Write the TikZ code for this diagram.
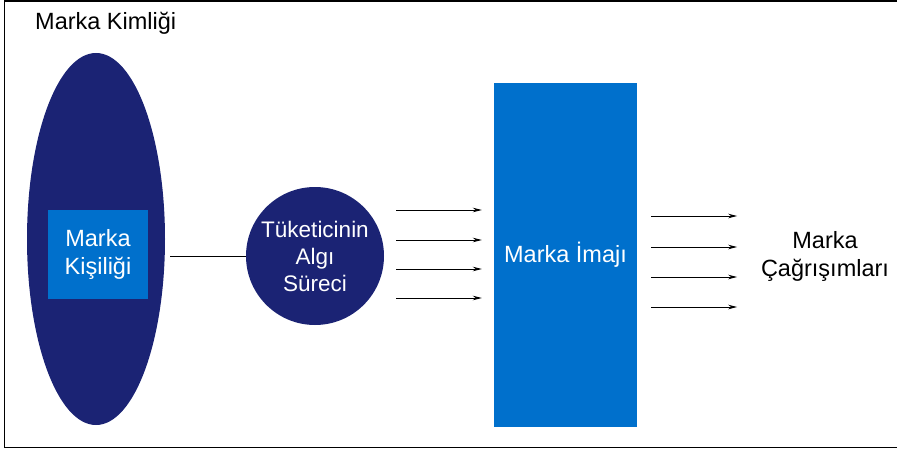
\documentclass[tikz,border=0pt]{standalone}
\usepackage{fontspec}
\setmainfont{Liberation Sans}
\usetikzlibrary{arrows.meta,positioning,shapes.geometric}
\definecolor{navy}{RGB}{27,35,116}
\definecolor{imgblue}{RGB}{0,112,204}
\begin{document}
\begin{tikzpicture}[x=1pt, y=-1pt,
  txt/.style={align=center, font=\fontsize{23.5}{28}\selectfont, inner sep=0pt},
  blob/.style={fill=navy, draw=none, inner sep=0pt},
  bluebox/.style={fill=imgblue, draw=none, inner sep=0pt, text=white},
  arr/.style={-{Stealth[length=9pt, width=4.5pt]}, line width=0.9pt}
]
\useasboundingbox (0,0) rectangle (897,452);
% frame
\draw[line width=1.2pt] (897,1) -- (4.5,1) -- (4.5,447.5) -- (897,447.5);

\node[txt, anchor=west] (kimlik) at (35,23) {Marka Kimliği};
\node[blob, ellipse, minimum width=138, minimum height=372] (kimlik-blob) at (96,239) {};
\node[bluebox, txt, minimum width=100, minimum height=89] (kisilik) at (98,254.5) {Marka\\Kişiliği};

\node[blob, circle, minimum size=138, txt, text=white,
      font=\fontsize{22.5}{27}\selectfont] (algi) at (315,256) {Tüketicinin\\Algı\\Süreci};
\draw[line width=0.8pt] ([xshift=5pt]kimlik-blob.east |- algi.west) -- (algi.west);

\node[bluebox, txt, minimum width=143, minimum height=344] (imaj) at (565.5,255) {Marka İmajı};

\node[txt] (cagrisim) at (825,256) {Marka\\Çağrışımları};

\foreach \y in {210,240,269,298}
  \draw[arr] ([xshift=12pt]algi.east |- 0,\y) -- ([xshift=-12pt]imaj.west |- 0,\y);
\foreach \y in {216,247,277,307}
  \draw[arr] ([xshift=14pt]imaj.east |- 0,\y) -- ([xshift=100pt]imaj.east |- 0,\y);
\end{tikzpicture}
\end{document}
